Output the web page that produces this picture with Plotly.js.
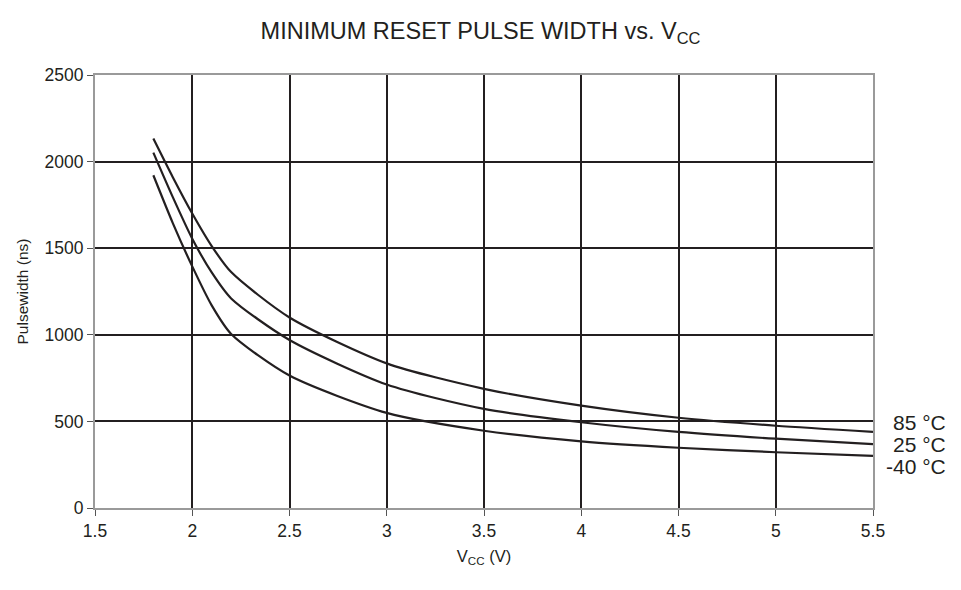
<!DOCTYPE html>
<html><head><meta charset="utf-8">
<script src="https://cdn.plot.ly/plotly-3.0.1.min.js"></script>
<style>html,body{margin:0;padding:0;background:#fff}#chart{width:961px;height:590px}</style>
</head><body><div id="chart"></div>
<script>
const vcc = [1.8, 1.9, 2.0, 2.1, 2.2, 2.5, 3.0, 3.5, 4.0, 4.5, 5.0, 5.5];
const t85 = [2133, 1910, 1700, 1512, 1362, 1100, 835, 688, 591, 521, 475, 440];
const t25 = [2052, 1795, 1555, 1360, 1210, 970, 713, 572, 495, 439, 400, 369];
const tm40 = [1921, 1645, 1395, 1170, 1005, 765, 549, 446, 385, 348, 322, 301];
const seriesNames = ['85 °C', '25 °C', '-40 °C'];
const labelVals = [493, 366, 238];
const xTicks = [1.5, 2, 2.5, 3, 3.5, 4, 4.5, 5, 5.5];
const yTicks = [0, 500, 1000, 1500, 2000, 2500];

const lineStyle = {color: '#231f20', width: 2.2, shape: 'spline', smoothing: 0.7};
const data = [t85, t25, tm40].map((ys, i) => ({
  x: vcc, y: ys, type: 'scatter', mode: 'lines', name: seriesNames[i], line: lineStyle, hoverinfo: 'x+y'
}));

const font = {family: 'Liberation Sans, Arial, sans-serif', color: '#231f20'};
const annotations = seriesNames.map((n, i) => ({
  text: n, xref: 'paper', yref: 'y', x: 1.096, xanchor: 'right',
  y: labelVals[i], yanchor: 'middle', showarrow: false,
  font: Object.assign({}, font, {size: 21})
}));

const layout = {
  width: 961, height: 590,
  margin: {l: 95, r: 88, t: 75, b: 82},
  paper_bgcolor: '#fff', plot_bgcolor: '#fff',
  showlegend: false,
  font: font,
  title: {text: 'MINIMUM RESET PULSE WIDTH vs. V<sub>CC</sub>', x: 0.5, xanchor: 'center', y: 0.948, yanchor: 'middle', font: Object.assign({}, font, {size: 23.5})},
  xaxis: {
    range: [1.5, 5.5], tickvals: xTicks, ticktext: xTicks.map(String),
    showgrid: true, gridcolor: '#231f20', gridwidth: 2,
    showline: true, linecolor: '#9a9a9a', linewidth: 2, mirror: true,
    ticks: 'outside', ticklen: 6, tickcolor: '#555', tickwidth: 1,
    zeroline: false, tickfont: Object.assign({}, font, {size: 17.5}),
    title: {text: 'V<sub>CC</sub> (V)', font: Object.assign({}, font, {size: 16.5}), standoff: 10}
  },
  yaxis: {
    range: [0, 2500], tickvals: yTicks, ticktext: yTicks.map(String),
    showgrid: true, gridcolor: '#231f20', gridwidth: 2,
    showline: true, linecolor: '#9a9a9a', linewidth: 2, mirror: true,
    ticks: 'outside', ticklen: 6, tickcolor: '#555', tickwidth: 1,
    zeroline: false, tickfont: Object.assign({}, font, {size: 17.5}),
    title: {text: 'Pulsewidth (ns)', font: Object.assign({}, font, {size: 15.5}), standoff: 12}
  },
  annotations: annotations
};
Plotly.newPlot('chart', data, layout, {displayModeBar: false, staticPlot: true});
</script></body></html>
